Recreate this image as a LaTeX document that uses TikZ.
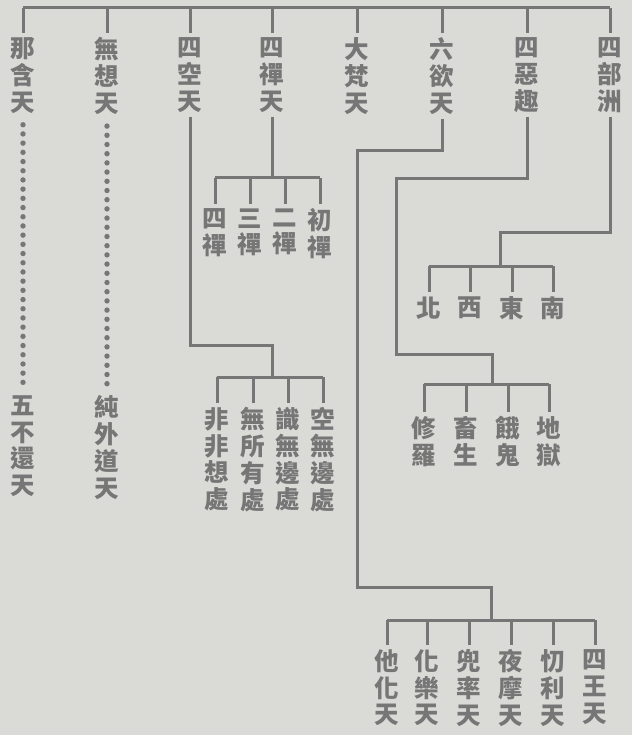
\documentclass[tikz,border=0pt]{standalone}
\usepackage{fontspec}
\usepackage{tikz}
\newfontfamily\cjk{Noto Sans CJK TC}

\definecolor{paper}{RGB}{218,218,215}
\definecolor{ink}{RGB}{118,118,118}

\begin{document}
\begin{tikzpicture}[x=1pt,y=-1pt,
    line width=3pt, draw=ink,
    vtext/.style={anchor=north, align=center, inner sep=3pt, text=ink,
      font=\cjk\bfseries\fontsize{24.5}{26.8}\selectfont},
    dots/.style={line width=5.4pt, line cap=round, dash pattern=on 0pt off 9.2pt,
      shorten >=7pt, shorten <=7pt}]
    \fill[paper] (0,0) rectangle (632,735);
    \useasboundingbox (0,0) rectangle (632,735);
    % top row
    \coordinate (top) at (0,8);
    \node[vtext] (nahan)   at (23,33)  {那\\含\\天};
    \node[vtext] (wuxiang) at (107,33) {無\\想\\天};
    \node[vtext] (sikong)  at (190,33) {四\\空\\天};
    \node[vtext] (sichan)  at (272,33) {四\\禪\\天};
    \node[vtext] (dafan)   at (357,33) {大\\梵\\天};
    \node[vtext] (liuyu)   at (442,33) {六\\欲\\天};
    \node[vtext] (sie)     at (527,33) {四\\惡\\趣};
    \node[vtext] (sibu)    at (610,33) {四\\部\\洲};
    \draw (nahan |- top) to (sibu |- top);
    \foreach \n in {nahan,wuxiang,sikong,sichan,dafan,liuyu,sie,sibu}
      \draw (\n |- top) to (\n.north);
    % dotted lines
    \node[vtext] (wubuhuan) at (23,391)  {五\\不\\還\\天};
    \node[vtext] (chunwai)  at (107,391) {純\\外\\道\\天};
    \draw[dots] (nahan.south) to (wubuhuan.north);
    \draw[dots] (wuxiang.south) to (chunwai.north);
    % four dhyana
    \coordinate (chan-bar) at (0,178);
    \node[vtext] (chan4) at (215,204) {四\\禪};
    \node[vtext] (chan3) at (250,204) {三\\禪};
    \node[vtext] (chan2) at (285,204) {二\\禪};
    \node[vtext] (chan1) at (320,204) {初\\禪};
    \draw (sichan.south) to (sichan |- chan-bar);
    \draw (chan4 |- chan-bar) to (chan1 |- chan-bar);
    \foreach \n in {chan4,chan3,chan2,chan1}
      \draw (\n |- chan-bar) to (\n.north);
    % four formless
    \coordinate (kong-turn) at (272,345);
    \coordinate (kong-bar) at (0,377);
    \node[vtext] (kong4) at (217,403) {非\\非\\想\\處};
    \node[vtext] (kong3) at (253,403) {無\\所\\有\\處};
    \node[vtext] (kong2) at (288,403) {識\\無\\邊\\處};
    \node[vtext] (kong1) at (323,403) {空\\無\\邊\\處};
    \draw (sikong.south) |- (kong-turn) -- (kong-turn |- kong-bar);
    \draw (kong4 |- kong-bar) to (kong1 |- kong-bar);
    \foreach \n in {kong4,kong3,kong2,kong1}
      \draw (\n |- kong-bar) to (\n.north);
    % four continents
    \coordinate (zhou-turn) at (500,232);
    \coordinate (zhou-bar) at (0,266);
    \node[vtext] (bei)  at (429,292) {北};
    \node[vtext] (xi)   at (470,292) {西};
    \node[vtext] (dong) at (512,292) {東};
    \node[vtext] (nan)  at (553,292) {南};
    \draw (sibu.south) |- (zhou-turn) -- (zhou-turn |- zhou-bar);
    \draw (bei |- zhou-bar) to (nan |- zhou-bar);
    \foreach \n in {bei,xi,dong,nan}
      \draw (\n |- zhou-bar) to (\n.north);
    % four evil paths
    \coordinate (e-turn1) at (396,179);
    \coordinate (e-turn2) at (492,354);
    \coordinate (e-bar) at (0,384);
    \node[vtext] (xiuluo) at (424,412) {修\\羅};
    \node[vtext] (chusheng) at (466,412) {畜\\生};
    \node[vtext] (egui) at (508,412) {餓\\鬼};
    \node[vtext] (diyu) at (549,412) {地\\獄};
    \draw (sie.south) |- (e-turn1) |- (e-turn2) -- (e-turn2 |- e-bar);
    \draw (xiuluo |- e-bar) to (diyu |- e-bar);
    \foreach \n in {xiuluo,chusheng,egui,diyu}
      \draw (\n |- e-bar) to (\n.north);
    % six desire heavens
    \coordinate (yu-turn1) at (357,151);
    \coordinate (yu-turn2) at (491,587);
    \coordinate (yu-bar) at (0,620);
    \node[vtext] (tahua)  at (387,645) {他\\化\\天};
    \node[vtext] (huale)  at (427,645) {化\\樂\\天};
    \node[vtext] (doulv)  at (469,645) {兜\\率\\天};
    \node[vtext] (yemo)   at (511,645) {夜\\摩\\天};
    \node[vtext] (daoli)  at (553,645) {忉\\利\\天};
    \node[vtext] (siwang) at (595,645) {四\\王\\天};
    \draw (liuyu.south) |- (yu-turn1) |- (yu-turn2) -- (yu-turn2 |- yu-bar);
    \draw (tahua |- yu-bar) to (siwang |- yu-bar);
    \foreach \n in {tahua,huale,doulv,yemo,daoli,siwang}
      \draw (\n |- yu-bar) to (\n.north);
\end{tikzpicture}
\end{document}
